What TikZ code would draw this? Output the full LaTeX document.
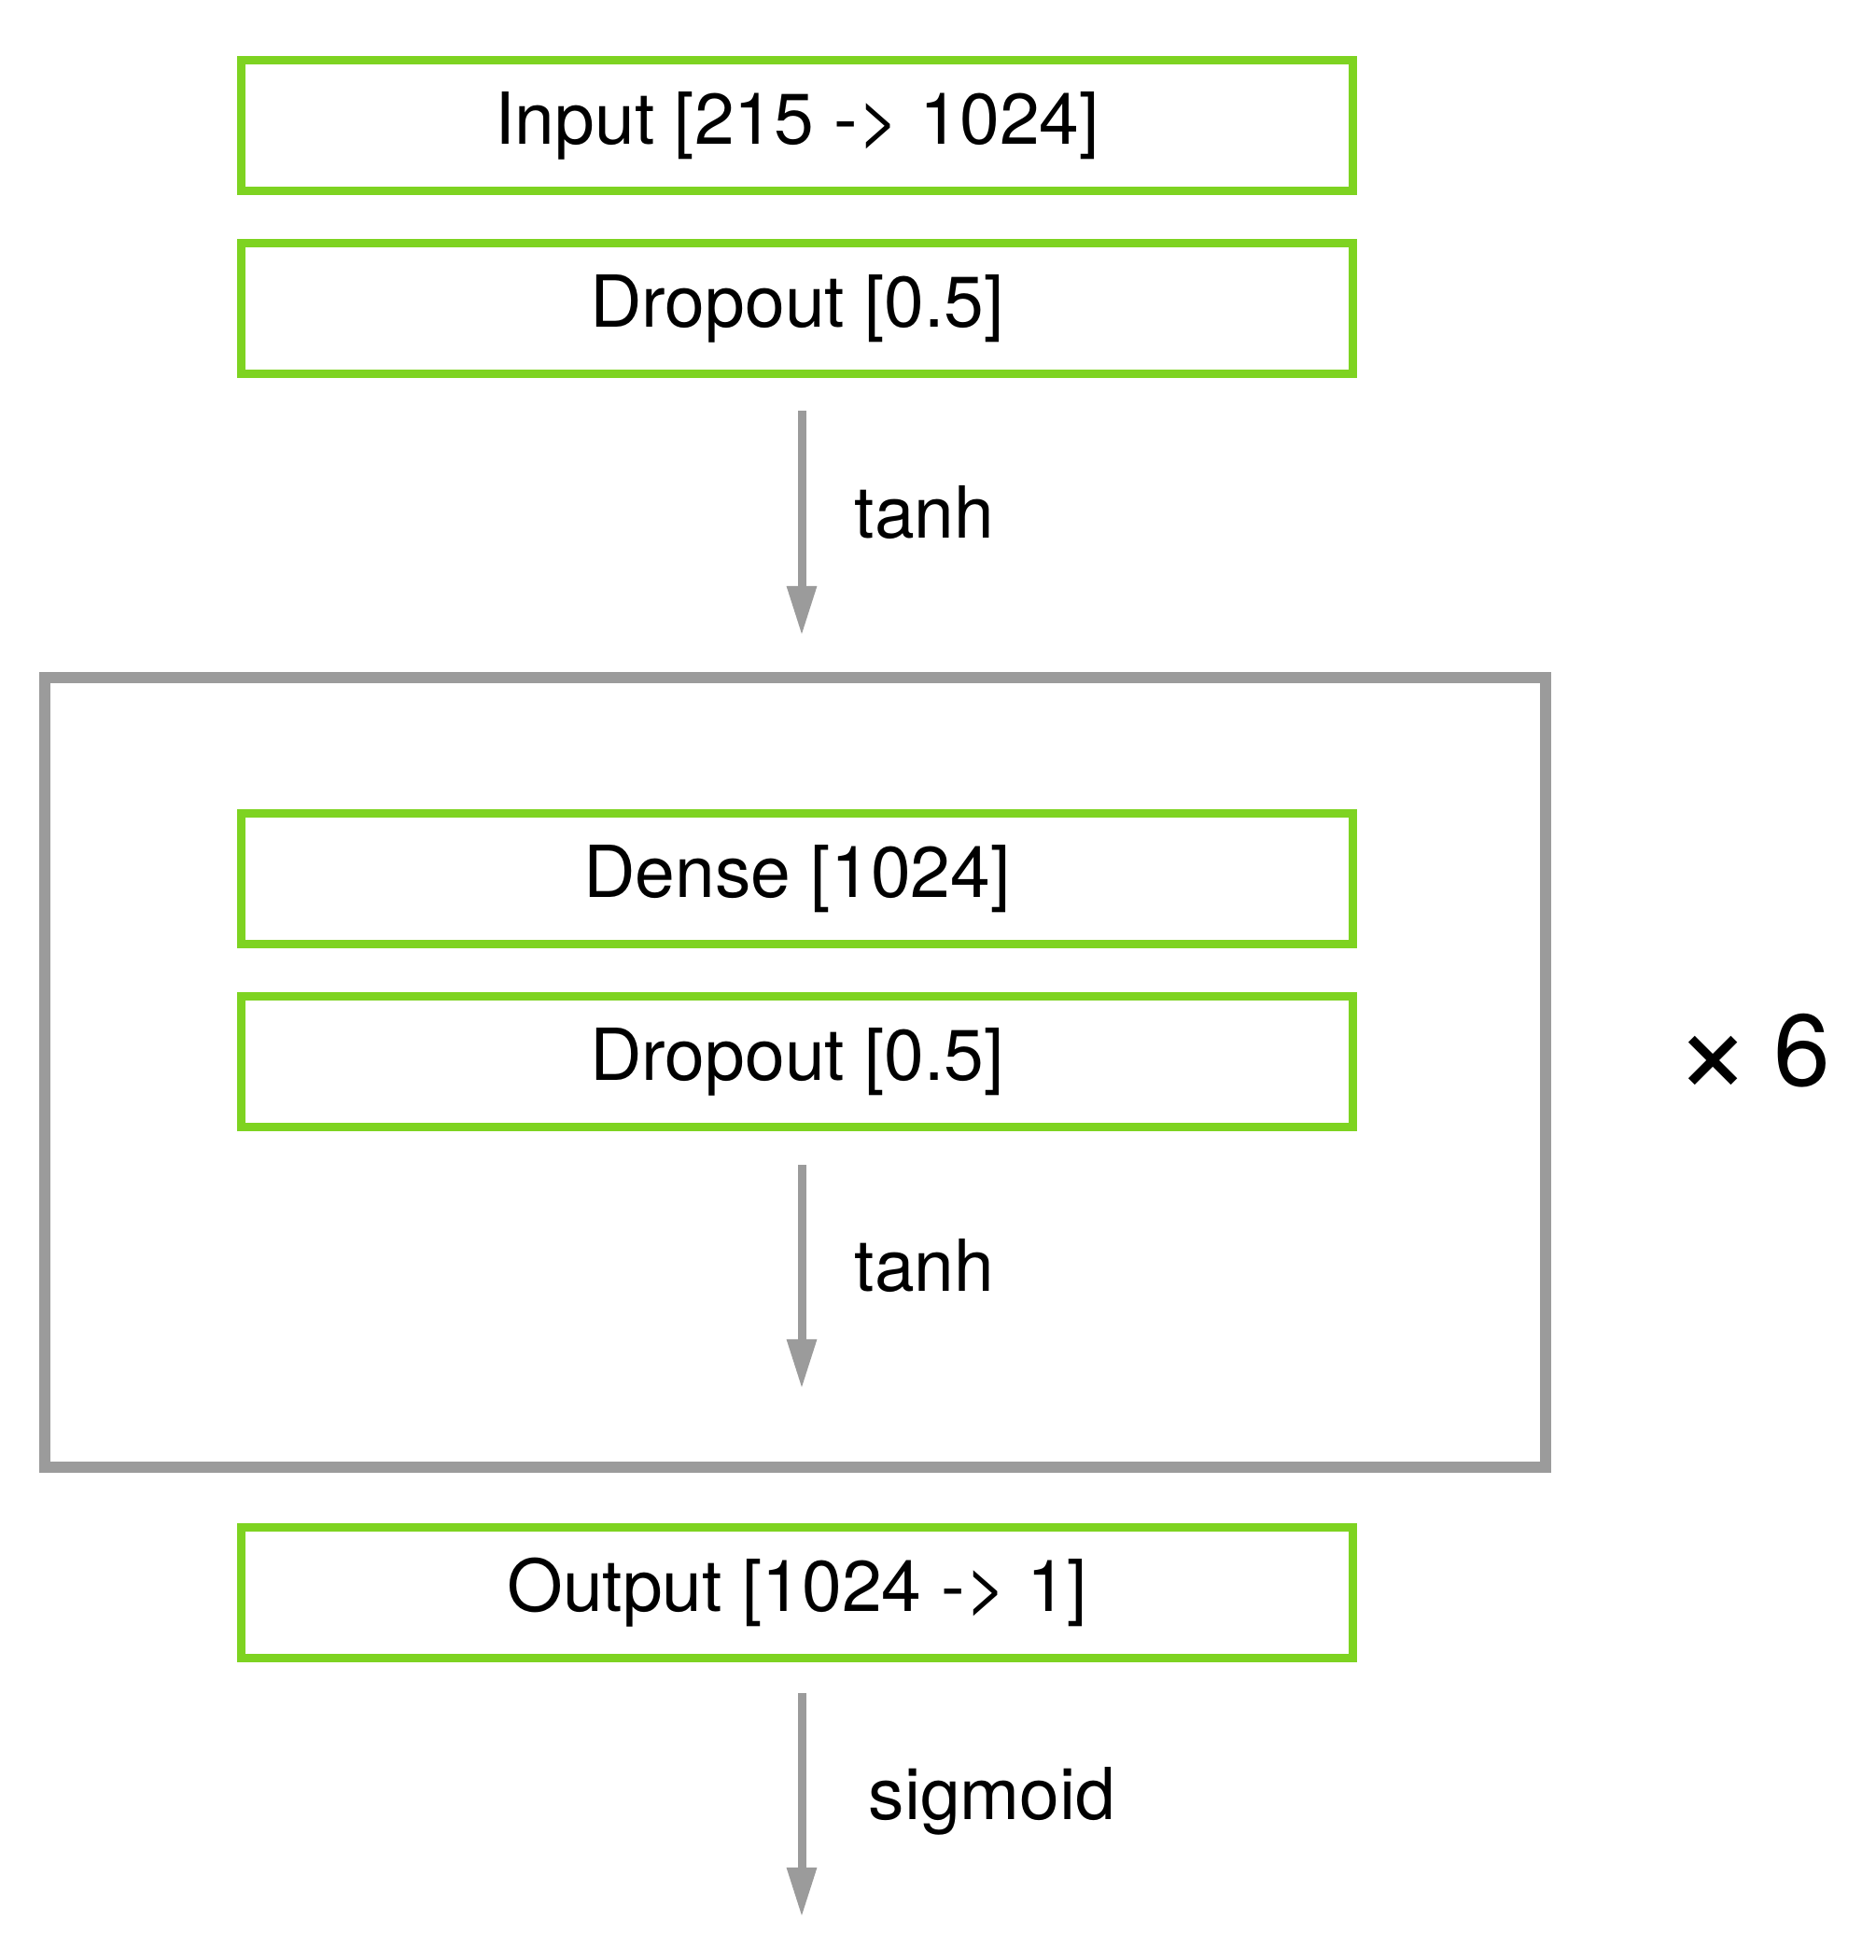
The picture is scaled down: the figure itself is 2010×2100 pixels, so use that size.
\documentclass[tikz,border=0pt]{standalone}
\usepackage{fontspec}
\setmainfont{TeX Gyre Heros}
\usetikzlibrary{arrows.meta}
\definecolor{layergreen}{HTML}{7ED321}
\definecolor{linegray}{HTML}{9B9B9B}
\begin{document}
\begin{tikzpicture}[x=0.01cm,y=-0.01cm,
           layer_style/.style={rectangle,draw=layergreen,line width=0.09cm,minimum width=11.90cm,minimum height=1.40cm,inner sep=0pt,font=\fontsize{21.85}{26}\selectfont},
           repeat_style/.style={rectangle,draw=linegray,line width=0.12cm,minimum width=16.08cm,minimum height=8.46cm,inner sep=0pt},
           label_style/.style={anchor=west,inner sep=0pt,font=\fontsize{21.85}{26}\selectfont},
           arrow_style/.style={draw=linegray,line width=0.09cm,-{Triangle[width=0.30cm,length=0.53cm]}}]
            \useasboundingbox (0,0) rectangle (2010,2100);
            \node[repeat_style] (block) at (852, 1149) {};
            \node[layer_style] (input) at (854, 134.5)  {Input [215 -> 1024]};
            \node[layer_style] (drop1) at (854, 330.5)  {Dropout [0.5]};
            \node[layer_style] (dense) at (854, 941.5)  {Dense [1024]};
            \node[layer_style] (drop2) at (854, 1137.5) {Dropout [0.5]};
            \node[layer_style] (output) at (854, 1706.5) {Output [1024 -> 1]};
            \node[anchor=west,inner sep=0pt,font=\fontsize{31}{36}\selectfont] (times) at (1793, 1129) {\raisebox{-2.5pt}{\fontsize{41}{46}\selectfont ×}\hspace{6.5pt}6};
            \coordinate (a1s) at (859, 440);
            \coordinate (a1e) at (859, 681);
            \coordinate (a2s) at (859, 1248);
            \coordinate (a2e) at (859, 1488);
            \coordinate (a3s) at (859, 1814);
            \coordinate (a3e) at (859, 2054);
            \draw[arrow_style] (a1s) -- (a1e);
            \draw[arrow_style] (a2s) -- (a2e);
            \draw[arrow_style] (a3s) -- (a3e);
            \node[label_style] (act1) at (915, 549)  {tanh};
            \node[label_style] (act2) at (915, 1356) {tanh};
            \node[label_style] (act3) at (930, 1930) {sigmoid};
        \end{tikzpicture}
\end{document}
